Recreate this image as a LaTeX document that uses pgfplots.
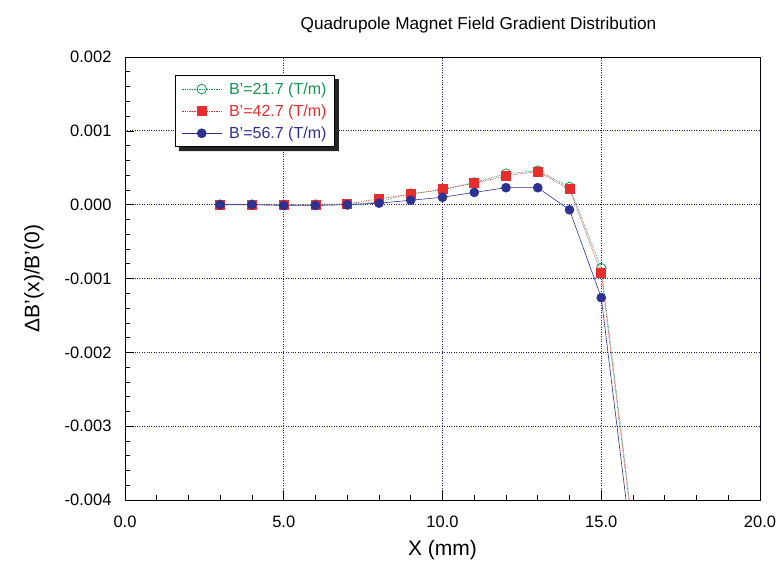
\documentclass[border=0pt]{standalone}
\usepackage{fontspec}
\setmainfont{Liberation Sans}
\usepackage{pgfplots}
\pgfplotsset{compat=1.18}
\definecolor{cgreen}{RGB}{20,150,80}
\definecolor{cred}{RGB}{232,45,45}
\definecolor{cblue}{RGB}{46,49,146}
\definecolor{cgrid}{RGB}{30,30,130}
\begin{document}
\begin{tikzpicture}
\useasboundingbox (-125pt,-63pt) rectangle (654pt,500pt);
\begin{axis}[
  at={(0pt,0pt)}, anchor=south west,
  scale only axis, width=635pt, height=443pt,
  xmin=0, xmax=20, ymin=-0.004, ymax=0.002,
  xtick={0,5,10,15,20}, ytick={-0.004,-0.003,-0.002,-0.001,0,0.001,0.002},
  minor x tick num=4, minor y tick num=4,
  xtick pos=bottom, ytick pos=left,
  tick align=inside,
  major tick length=9pt, minor tick length=5pt,
  every tick/.style={black, line width=0.6pt},
  axis line style={black, line width=0.8pt},
  scaled y ticks=false, scaled x ticks=false,
  xticklabel style={/pgf/number format/.cd, fixed, fixed zerofill, precision=1},
  yticklabel style={/pgf/number format/.cd, fixed, fixed zerofill, precision=3},
  /pgf/number format/assume math mode=true,
  ticklabel style={font=\fontsize{16.5}{19}\selectfont},
  xticklabel shift=12pt,
  yticklabel shift=10pt,
  grid=major,
  major grid style={cgrid, dotted, line width=0.8pt},
  title={Quadrupole Magnet Field Gradient Distribution},
  title style={font=\fontsize{17.2}{20}\selectfont, yshift=14pt, xshift=36pt},
  xlabel={X (mm)},
  ylabel={ΔB'(x)/B'(0)},
  label style={font=\fontsize{21}{24}\selectfont},
  xlabel style={yshift=-6pt},
  ylabel style={yshift=14pt},
  legend style={name=leg, at={(0.0787,0.959)}, anchor=north west, draw=black, line width=0.8pt,
    fill=white, font=\fontsize{16}{19}\selectfont, row sep=5pt, inner xsep=6pt, inner ysep=5pt},
  legend cell align=left,
  /tikz/every odd column/.append style={column sep=5pt},
  legend image code/.code={\draw[line width=0.7pt, mark repeat=2,mark phase=2] plot coordinates {(0pt,0pt) (20pt,0pt) (40pt,0pt)};},
]
\addplot[cgreen, densely dotted, line width=0.7pt, mark=o, mark size=4.8pt, mark options={solid, line width=0.8pt}] coordinates {
(3,0) (4,0) (5,0) (6,0) (7,0) (8,0.00004) (9,0.00015) (10,0.0002) (11,0.0003) (12,0.00042) (13,0.00046) (14,0.00024) (15,-0.00086) (16,-0.0044)};
\addlegendentry{\textcolor{cgreen}{B'=21.7 (T/m)}\hspace{12pt}}
\addplot[cred, densely dotted, line width=0.7pt, mark=square*, mark size=4.5pt, mark options={solid}] coordinates {
(3,0) (4,0) (5,0) (6,0) (7,0.00001) (8,0.00008) (9,0.00014) (10,0.00021) (11,0.00029) (12,0.00039) (13,0.00045) (14,0.00021) (15,-0.00093) (16,-0.00446)};
\addlegendentry{\textcolor{cred}{B'=42.7 (T/m)}\hspace{12pt}}
\addplot[cblue, solid, line width=0.6pt, mark=*, mark size=4.5pt] coordinates {
(3,0) (4,0) (5,-0.00001) (6,-0.00001) (7,0) (8,0.00002) (9,0.00006) (10,0.0001) (11,0.000166) (12,0.00023) (13,0.00023) (14,-0.00007) (15,-0.00126) (16,-0.00477)};
\addlegendentry{\textcolor{cblue}{B'=56.7 (T/m)}\hspace{12pt}}
\end{axis}
\fill[black!85] ([xshift=0pt,yshift=-4pt]leg.north east) -- ([xshift=4pt,yshift=-4pt]leg.north east)
  -- ([xshift=4pt,yshift=-4pt]leg.south east) -- ([xshift=4pt,yshift=-4pt]leg.south west)
  -- ([xshift=4pt]leg.south west) -- (leg.south east) -- cycle;
\end{tikzpicture}
\end{document}
